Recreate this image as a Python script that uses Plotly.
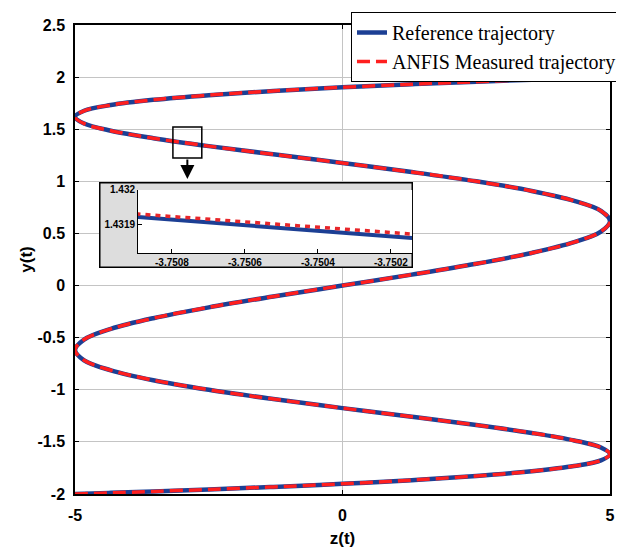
import plotly.graph_objects as go

# ---- data (z(t), y(t) along the trajectory) ----
ref_z = [-5, -4.83, -4.33, -3.536, -2.5, -1.294, 0, 1.294, 2.5, 3.536, 4.33, 4.83,
         5, 4.83, 4.33, 3.536, 2.5, 1.294, 0, -1.294, -2.5, -3.536, -4.33, -4.83,
         -5, -4.83, -4.33, -3.536, -2.5, -1.294,
         0,
         1.294, 2.5, 3.536, 4.33, 4.83, 5, 4.83, 4.33, 3.536, 2.5, 1.294, 0,
         -1.294, -2.5, -3.536, -4.33, -4.83, -5, -4.83, -4.33, -3.536, -2.5, -1.294,
         0, 1.294, 2.5, 3.536, 4.33, 4.83, 5]
ref_y = [-2.0, -1.997, -1.989, -1.975, -1.956, -1.932, -1.902, -1.867, -1.827, -1.782,
         -1.732, -1.677, -1.618, -1.554, -1.486, -1.414, -1.338, -1.259, -1.176, -1.089,
         -1.0, -0.908, -0.813, -0.717, -0.618, -0.518, -0.416, -0.313, -0.209, -0.105,
         0,
         0.105, 0.209, 0.313, 0.416, 0.518, 0.618, 0.717, 0.813, 0.908, 1.0,
         1.089, 1.176, 1.259, 1.338, 1.414, 1.486, 1.554, 1.618, 1.677, 1.732,
         1.782, 1.827, 1.867, 1.902, 1.932, 1.956, 1.975, 1.989, 1.997, 2.0]
meas_z = list(ref_z)
meas_y = list(ref_y)

# zoomed inset values
inset_z = [-3.7509, -3.7501]
inset_ref_y = [1.4319212, 1.4318553]
inset_meas_y = [1.4319299, 1.4318673]

y_ticks = [-2, -1.5, -1, -0.5, 0, 0.5, 1, 1.5, 2, 2.5]
y_ticktext = ["-2", "-1.5", "-1", "-0.5", "0", "0.5", "1", "1.5", "2", "2.5"]
x_ticks = [-5, 0, 5]
x_ticktext = ["-5", "0", "5"]
inset_x_ticks = [-3.7508, -3.7506, -3.7504, -3.7502]
inset_x_ticktext = ["-3.7508", "-3.7506", "-3.7504", "-3.7502"]
inset_y_ticks = [1.4319, 1.432]
inset_y_ticktext = ["1.4319", "1.432"]

BLUE = "#1c3f94"
RED = "#ff1f1f"
SANS = "Liberation Sans, Arial, sans-serif"
SERIF = "Liberation Serif, Times New Roman, serif"

fig = go.Figure()

fig.add_trace(go.Scatter(x=ref_z, y=ref_y, mode="lines", name="Reference trajectory",
                         line=dict(color=BLUE, width=4.5, shape="spline", smoothing=1)))
fig.add_trace(go.Scatter(x=meas_z, y=meas_y, mode="lines", name="ANFIS Measured trajectory",
                         line=dict(color=RED, width=3.5, dash="13px,6px", shape="spline", smoothing=1)))

# invisible trace to create the inset frame subplot
fig.add_trace(go.Scatter(x=[None], y=[None], xaxis="x2", yaxis="y2", showlegend=False,
                         hoverinfo="skip"))

# inset traces
fig.add_trace(go.Scatter(x=inset_z, y=inset_ref_y, mode="lines", xaxis="x3", yaxis="y3",
                         showlegend=False, line=dict(color=BLUE, width=4)))
fig.add_trace(go.Scatter(x=inset_z, y=inset_meas_y, mode="lines", xaxis="x3", yaxis="y3",
                         showlegend=False, line=dict(color="#e8262a", width=3.5, dash="5px,5px")))

axis_common = dict(showline=True, linecolor="black", linewidth=1.5, mirror="ticks",
                   ticks="inside", ticklen=4, tickcolor="black", zeroline=False,
                   showgrid=True, gridcolor="#c4c4c4", gridwidth=1, automargin=False,
                   tickfont=dict(family=SANS, size=16, color="black", weight="bold"))

fig.update_layout(
    width=616, height=543,
    margin=dict(l=67, r=14, t=17, b=57, autoexpand=False),
    paper_bgcolor="white", plot_bgcolor="white",
    xaxis=dict(range=[-5, 5], tickvals=x_ticks, ticktext=x_ticktext, ticklabelstandoff=6,
               title=dict(text="z(t)", font=dict(family=SANS, size=17, color="black", weight="bold"),
                          standoff=9),
               **axis_common),
    yaxis=dict(range=[-2, 2.5], tickvals=y_ticks, ticktext=y_ticktext, ticklabelstandoff=5,
               title=dict(text="y(t)", font=dict(family=SANS, size=17, color="black", weight="bold"),
                          standoff=1),
               **axis_common),
    xaxis2=dict(domain=[0.0449, 0.6318], range=[0, 1], visible=False, anchor="y2",
                fixedrange=True, automargin=False),
    yaxis2=dict(domain=[0.4819, 0.6652], range=[0, 1], visible=False, anchor="x2",
                fixedrange=True, automargin=False),
    xaxis3=dict(domain=[0.1178, 0.6300], range=[-3.750893, -3.750142], anchor="y3",
                tickvals=inset_x_ticks, ticktext=inset_x_ticktext, automargin=False,
                showline=True, linecolor="black", linewidth=1, ticks="inside", ticklen=4,
                tickcolor="black", showgrid=False, zeroline=False,
                tickfont=dict(family=SANS, size=10, color="black", weight="bold")),
    yaxis3=dict(domain=[0.5139, 0.6482], range=[1.431815, 1.432], anchor="x3",
                tickvals=inset_y_ticks, ticktext=inset_y_ticktext, automargin=False,
                showline=True, linecolor="black", linewidth=1, ticks="inside", ticklen=4,
                tickcolor="black", showgrid=False, zeroline=False,
                tickfont=dict(family=SANS, size=10, color="black", weight="bold")),
    legend=dict(x=1.0224, y=1.0277, xanchor="right", yanchor="top",
                bgcolor="white", bordercolor="black", borderwidth=1,
                font=dict(family=SERIF, size=20, color="black"), tracegroupgap=0),
    showlegend=True,
)

# inset frame (gray), inset plot area (white)
fig.add_shape(type="rect", xref="x2", yref="y2", x0=0, x1=1, y0=0, y1=1,
              fillcolor="#dddddd", line=dict(color="black", width=3), layer="below")
fig.add_shape(type="rect", xref="x3", yref="y3", x0=-3.750893, x1=-3.750142,
              y0=1.431815, y1=1.432, fillcolor="white", line=dict(width=0), layer="below")

# small zoom box on the main plot and arrow
fig.add_shape(type="rect", xref="x", yref="y", x0=-3.17, x1=-2.63, y0=1.224, y1=1.521,
              line=dict(color="black", width=1.5), layer="above")
fig.add_annotation(x=-2.9, y=1.022, xref="x", yref="y", text="", showarrow=True,
                   ax=0, ay=-21, arrowhead=2, arrowsize=1.4, arrowwidth=2, arrowcolor="black")

fig.write_html("out.html")
